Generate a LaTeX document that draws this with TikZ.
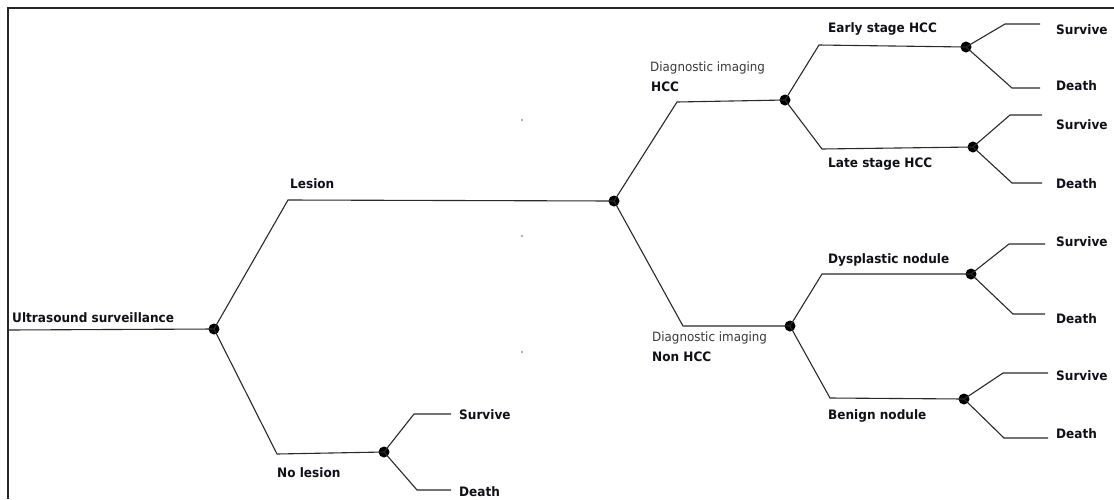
\documentclass[tikz,border=0pt]{standalone}
\usepackage{fontspec}
\setmainfont{DejaVu Sans}[FakeStretch=0.93]
\definecolor{txt}{HTML}{101018}
\definecolor{lighttxt}{HTML}{3A3A3A}
\definecolor{edge}{HTML}{2A2A2A}
\begin{document}
\begin{tikzpicture}[x=1pt,y=-1pt,
  chance/.style={circle,fill=black,inner sep=0pt,minimum size=11pt},
  branch/.style={draw=edge,line width=1.1pt},
  lab/.style={anchor=west,inner sep=0pt,text=txt,font=\fontsize{13}{15}\selectfont\bfseries},
  sublab/.style={anchor=west,inner sep=0pt,text=lighttxt,font=\fontsize{12.8}{15}\selectfont},
  frameline/.style={draw=black!85,line width=1.8pt}]
\useasboundingbox (0,0) rectangle (1114,499);
\fill[white] (0,0) rectangle (1114,499);
% frame
\coordinate (f1) at (8,499);
\coordinate (f2) at (8,8);
\coordinate (f3) at (1114,8);
\draw[frameline] (f1) -- (f2) -- (f3);
% faint specks
\fill[black!30] (521,119) rectangle (523,121);
\fill[black!30] (521,235) rectangle (523,237);
\fill[black!30] (521,351) rectangle (523,353);
% chance nodes
\node[chance] (A) at (214,329) {};
\node[chance] (B) at (614,201) {};
\node[chance] (C) at (384,452) {};
\node[chance] (D) at (785,100) {};
\node[chance] (E) at (790,326) {};
\node[chance] (F) at (966,47) {};
\node[chance] (G) at (973,147) {};
\node[chance] (H) at (971,274) {};
\node[chance] (I) at (964,399) {};
% corner coordinates
\coordinate (r0) at (8,330);
\coordinate (aU) at (288,200);
\coordinate (aD) at (277,454);
\coordinate (cU) at (414,414); \coordinate (cUe) at (451,414);
\coordinate (cD) at (417,490); \coordinate (cDe) at (451,490);
\coordinate (bU) at (677,102);
\coordinate (bD) at (683,326);
\coordinate (dU) at (819,45);
\coordinate (dD) at (822,149);
\coordinate (eU) at (822,274);
\coordinate (eD) at (830,398);
\coordinate (fU) at (1005,24); \coordinate (fUe) at (1040,24);
\coordinate (fD) at (1012,88); \coordinate (fDe) at (1040,88);
\coordinate (gU) at (1010,115); \coordinate (gUe) at (1042,115);
\coordinate (gD) at (1012,183); \coordinate (gDe) at (1042,183);
\coordinate (hU) at (1009,244); \coordinate (hUe) at (1045,244);
\coordinate (hD) at (1013,314); \coordinate (hDe) at (1045,314);
\coordinate (iU) at (1003,373); \coordinate (iUe) at (1048,373);
\coordinate (iD) at (1004,438); \coordinate (iDe) at (1048,438);
% branches
\draw[branch] (r0) -- (A.center);
\draw[branch] (A.center) -- (aU) -- (B.center);
\draw[branch] (A.center) -- (aD) -- (C.center);
\draw[branch] (C.center) -- (cU) -- (cUe);
\draw[branch] (C.center) -- (cD) -- (cDe);
\draw[branch] (B.center) -- (bU) -- (D.center);
\draw[branch] (B.center) -- (bD) -- (E.center);
\draw[branch] (D.center) -- (dU) -- (F.center);
\draw[branch] (D.center) -- (dD) -- (G.center);
\draw[branch] (E.center) -- (eU) -- (H.center);
\draw[branch] (E.center) -- (eD) -- (I.center);
\draw[branch] (F.center) -- (fU) -- (fUe);
\draw[branch] (F.center) -- (fD) -- (fDe);
\draw[branch] (G.center) -- (gU) -- (gUe);
\draw[branch] (G.center) -- (gD) -- (gDe);
\draw[branch] (H.center) -- (hU) -- (hUe);
\draw[branch] (H.center) -- (hD) -- (hDe);
\draw[branch] (I.center) -- (iU) -- (iUe);
\draw[branch] (I.center) -- (iD) -- (iDe);
% labels
\node[lab] (tRoot) at (12,318) {Ultrasound surveillance};
\node[lab] (tLes) at (290,184) {Lesion};
\node[lab] (tNoLes) at (277,473) {No lesion};
\node[lab] (tS0) at (459,415) {Survive};
\node[lab] (tD0) at (459,492) {Death};
\node[sublab] (tDi1) at (650,68) {Diagnostic imaging};
\node[lab] (tHCC) at (651,87) {HCC};
\node[sublab] (tDi2) at (652,338) {Diagnostic imaging};
\node[lab] (tNon) at (652,357) {Non HCC};
\node[lab] (tEarly) at (828,29) {Early stage HCC};
\node[lab] (tLate) at (828,164) {Late stage HCC};
\node[lab] (tDys) at (828,260) {Dysplastic nodule};
\node[lab] (tBen) at (828,416) {Benign nodule};
\node[lab] (tS1) at (1056,30) {Survive};
\node[lab] (tD1) at (1056,86) {Death};
\node[lab] (tS2) at (1056,125) {Survive};
\node[lab] (tD2) at (1056,184) {Death};
\node[lab] (tS3) at (1056,242) {Survive};
\node[lab] (tD3) at (1056,319) {Death};
\node[lab] (tS4) at (1056,376) {Survive};
\node[lab] (tD4) at (1056,434) {Death};
\end{tikzpicture}
\end{document}
